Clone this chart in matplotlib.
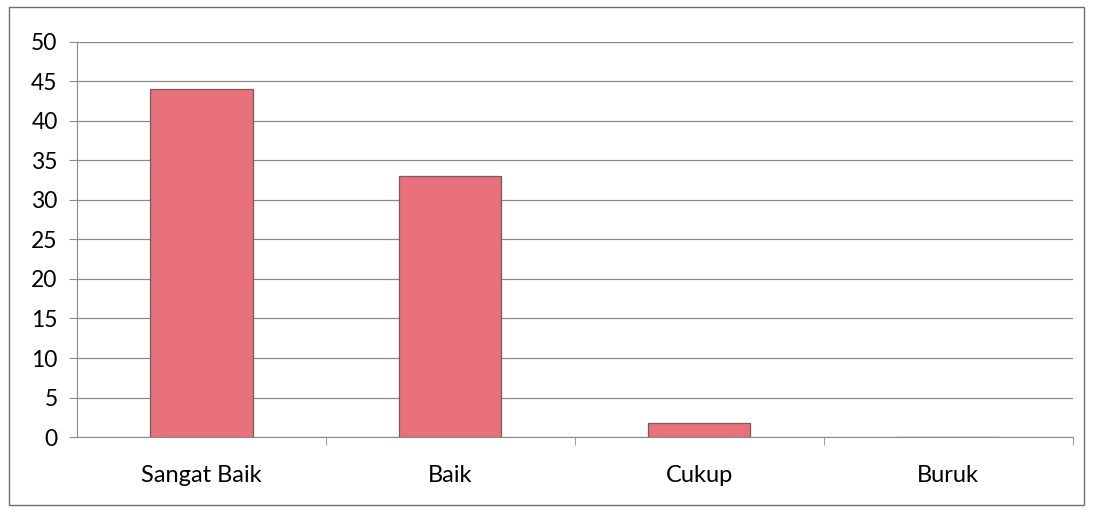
import matplotlib
matplotlib.use("Agg")
import matplotlib.pyplot as plt
from matplotlib.patches import Rectangle

categories = ["Sangat Baik", "Baik", "Cukup", "Buruk"]
values = [44, 33, 1.8, 0]
yticks = [0, 5, 10, 15, 20, 25, 30, 35, 40, 45, 50]

plt.rcParams['font.family'] = ['Lato', 'DejaVu Sans']

fig = plt.figure(figsize=(10.93, 5.16), dpi=100)
ax = fig.add_axes([0.0705, 0.153, 0.911, 0.766])

x = range(len(categories))
ax.bar(x, values, width=0.41, color="#E8717B", edgecolor="#7a5a5e", linewidth=0.9, zorder=3)

ax.set_xlim(-0.5, len(categories) - 0.5)
ax.set_ylim(0, 50)
ax.set_yticks(yticks)
ax.set_yticklabels([str(t) for t in yticks], fontsize=16.5)
ax.set_xticks(list(x))
ax.set_xticklabels(categories, fontsize=17)
ax.tick_params(axis="x", length=0, pad=20)
ax.tick_params(axis="y", length=6, color="#8a8a8a", pad=8)

# category boundary ticks below the x axis
ax.set_xticks([i + 0.5 for i in range(len(categories))], minor=True)
ax.tick_params(axis="x", which="minor", length=6, color="#8a8a8a")

ax.grid(axis="y", color="#8a8a8a", linewidth=0.9, zorder=0)
for side in ["top", "right"]:
    ax.spines[side].set_visible(False)
ax.spines["left"].set_color("#8a8a8a")
ax.spines["bottom"].set_color("#8a8a8a")

# outer chart border
fig.patches.append(Rectangle((0.008, 0.022), 0.984, 0.965, transform=fig.transFigure,
                             fill=False, edgecolor="#6e6e6e", linewidth=1.0))

fig.savefig("out.png", dpi=100)
